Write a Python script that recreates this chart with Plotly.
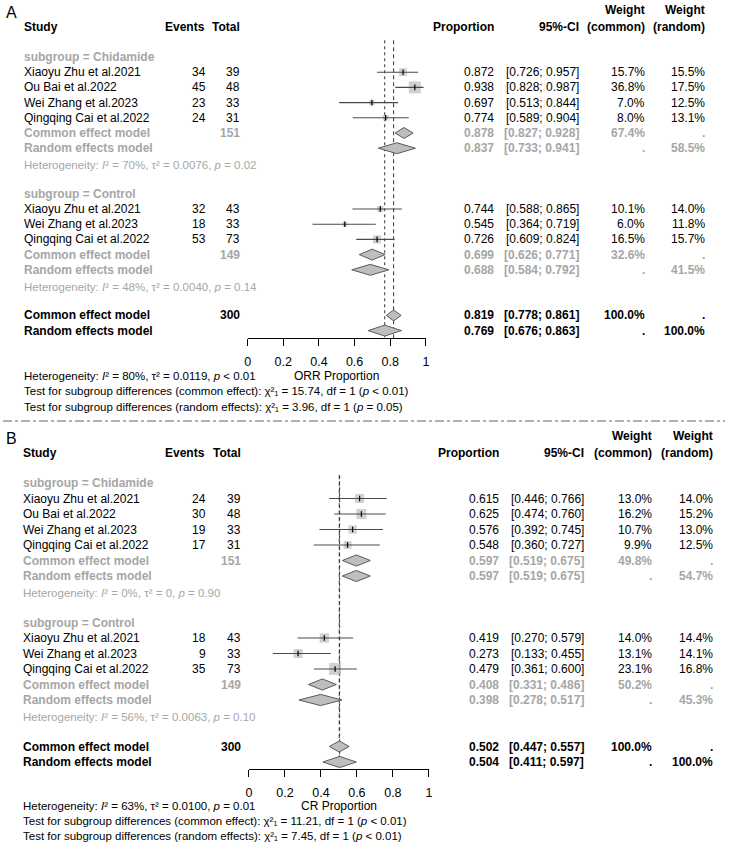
import math
import plotly.graph_objects as go

FONT = "Liberation Sans, Arial, sans-serif"
W, H = 729, 854
BLACK = "#000000"
GRAY = "#a6a6a6"
SQ = "#bebebe"
CIC = "#4a4a4a"

# ---------------- Panel A (ORR) data ----------------
A_study = ["Xiaoyu Zhu et al.2021", "Ou Bai et al.2022", "Wei Zhang et al.2023", "Qingqing Cai et al.2022",
           "Xiaoyu Zhu et al.2021", "Wei Zhang et al.2023", "Qingqing Cai et al.2022"]
A_group = ["Chidamide", "Chidamide", "Chidamide", "Chidamide", "Control", "Control", "Control"]
A_events = [34, 45, 23, 24, 32, 18, 53]
A_total = [39, 48, 33, 31, 43, 33, 73]
A_prop = [0.872, 0.938, 0.697, 0.774, 0.744, 0.545, 0.726]
A_lo = [0.726, 0.828, 0.513, 0.589, 0.588, 0.364, 0.609]
A_hi = [0.957, 0.987, 0.844, 0.904, 0.865, 0.719, 0.824]
A_wcom = [15.7, 36.8, 7.0, 8.0, 10.1, 6.0, 16.5]
A_wran = [15.5, 17.5, 12.5, 13.1, 14.0, 11.8, 15.7]
A_sub_names = ["Chidamide", "Control"]
A_sub_n = [151, 149]
A_sub_com = [0.878, 0.699]
A_sub_com_lo = [0.827, 0.626]
A_sub_com_hi = [0.928, 0.771]
A_sub_com_w = [67.4, 32.6]
A_sub_ran = [0.837, 0.688]
A_sub_ran_lo = [0.733, 0.584]
A_sub_ran_hi = [0.941, 0.792]
A_sub_ran_w = [58.5, 41.5]
A_sub_I2 = [70, 48]
A_sub_tau2 = ["0.0076", "0.0040"]
A_sub_p = ["= 0.02", "= 0.14"]
A_all_n = 300
A_all_est = [0.819, 0.769]   # common, random
A_all_lo = [0.778, 0.676]
A_all_hi = [0.861, 0.863]
A_I2, A_tau2, A_p = 80, "0.0119", "&lt; 0.01"
A_test_chi = ["15.74", "3.96"]
A_test_p = ["&lt; 0.01", "= 0.05"]
A_xlabel = "ORR Proportion"

# ---------------- Panel B (CR) data ----------------
B_study = list(A_study)
B_group = list(A_group)
B_events = [24, 30, 19, 17, 18, 9, 35]
B_total = [39, 48, 33, 31, 43, 33, 73]
B_prop = [0.615, 0.625, 0.576, 0.548, 0.419, 0.273, 0.479]
B_lo = [0.446, 0.474, 0.392, 0.360, 0.270, 0.133, 0.361]
B_hi = [0.766, 0.760, 0.745, 0.727, 0.579, 0.455, 0.600]
B_wcom = [13.0, 16.2, 10.7, 9.9, 14.0, 13.1, 23.1]
B_wran = [14.0, 15.2, 13.0, 12.5, 14.4, 14.1, 16.8]
B_sub_names = ["Chidamide", "Control"]
B_sub_n = [151, 149]
B_sub_com = [0.597, 0.408]
B_sub_com_lo = [0.519, 0.331]
B_sub_com_hi = [0.675, 0.486]
B_sub_com_w = [49.8, 50.2]
B_sub_ran = [0.597, 0.398]
B_sub_ran_lo = [0.519, 0.278]
B_sub_ran_hi = [0.675, 0.517]
B_sub_ran_w = [54.7, 45.3]
B_sub_I2 = [0, 56]
B_sub_tau2 = ["0", "0.0063"]
B_sub_p = ["= 0.90", "= 0.10"]
B_all_n = 300
B_all_est = [0.502, 0.504]
B_all_lo = [0.447, 0.411]
B_all_hi = [0.557, 0.597]
B_I2, B_tau2, B_p = 63, "0.0100", "= 0.01"
B_test_chi = ["11.21", "7.45"]
B_test_p = ["&lt; 0.01", "&lt; 0.01"]
B_xlabel = "CR Proportion"

TICKS = [0, 0.2, 0.4, 0.6, 0.8, 1]
TICK_TEXT = ["0", "0.2", "0.4", "0.6", "0.8", "1"]

fig = go.Figure()
annotations = []
shapes = []


def ann(xpx, y, text, yref, anchor="left", size=12, color=BLACK, bold=False):
    if bold:
        text = "<b>" + text + "</b>"
    annotations.append(dict(x=xpx / W, xref="paper", y=y, yref=yref, text=text,
                            xanchor=anchor, yanchor="middle", showarrow=False,
                            borderpad=0, font=dict(family=FONT, size=size, color=color)))


def het_text(i2, tau2, p):
    return ("Heterogeneity: <i>I</i>² = %s%%, τ² = %s, <i>p</i> %s" % (i2, tau2, p))


def panel(d, cfg):
    xa, ya, yref = cfg["xa"], cfg["ya"], cfg["yref"]
    c = cfg
    # header
    ann(c["label_x"], c["label_row"], c["label"], yref, size=16)
    ann(c["study_x"], c["hdr_row"], "Study", yref, bold=True)
    ann(c["ev_hdr"], c["hdr_row"], "Events", yref, anchor="right", bold=True)
    ann(c["tot_r"], c["hdr_row"], "Total", yref, anchor="right", bold=True)
    ann(c["prop_r"], c["hdr_row"], "Proportion", yref, anchor="right", bold=True)
    ann(c["ci_r"], c["hdr_row"], "95%-CI", yref, anchor="right", bold=True)
    ann(c["wc_r"], c["hdr_row"], "(common)", yref, anchor="right", bold=True)
    ann(c["wr_r"], c["hdr_row"], "(random)", yref, anchor="right", bold=True)
    ann(c["wc_r"], c["w_row"], "Weight", yref, anchor="right", bold=True)
    ann(c["wr_r"], c["w_row"], "Weight", yref, anchor="right", bold=True)

    sq_x, sq_y, sq_s = [], [], []
    ci_x, ci_y = [], []
    dia_x, dia_y = [], []
    hh = 0.36
    wmax = max(d["wcom"])

    def diamond(est, lo, hi, r):
        dia_x.extend([lo, est, hi, est, lo, None])
        dia_y.extend([r, r - hh, r, r + hh, r, None])

    row = 0
    for g, gname in enumerate(d["sub_names"]):
        ann(c["study_x"], row, "subgroup = " + gname, yref, color=GRAY, bold=True)
        row += 1
        for i, grp in enumerate(d["group"]):
            if grp != gname:
                continue
            ann(c["study_x"], row, d["study"][i], yref)
            ann(c["ev_r"], row, str(d["events"][i]), yref, anchor="right")
            ann(c["tot_r"], row, str(d["total"][i]), yref, anchor="right")
            ann(c["prop_r"], row, "%.3f" % d["prop"][i], yref, anchor="right")
            ann(c["ci_r"], row, "[%.3f; %.3f]" % (d["lo"][i], d["hi"][i]), yref, anchor="right")
            ann(c["wc_r"], row, "%.1f%%" % d["wcom"][i], yref, anchor="right")
            ann(c["wr_r"], row, "%.1f%%" % d["wran"][i], yref, anchor="right")
            sq_x.append(d["prop"][i]); sq_y.append(row)
            sq_s.append(12 * math.sqrt(d["wcom"][i] / wmax))
            ci_x.extend([d["lo"][i], d["hi"][i], None]); ci_y.extend([row, row, None])
            row += 1
        # common
        ann(c["study_x"], row, "Common effect model", yref, color=GRAY, bold=True)
        ann(c["tot_r"], row, str(d["sub_n"][g]), yref, anchor="right", color=GRAY, bold=True)
        ann(c["prop_r"], row, "%.3f" % d["sub_com"][g], yref, anchor="right", color=GRAY, bold=True)
        ann(c["ci_r"], row, "[%.3f; %.3f]" % (d["sub_com_lo"][g], d["sub_com_hi"][g]), yref, anchor="right", color=GRAY, bold=True)
        ann(c["wc_r"], row, "%.1f%%" % d["sub_com_w"][g], yref, anchor="right", color=GRAY, bold=True)
        ann(c["wr_r"], row, ".", yref, anchor="right", color=GRAY, bold=True)
        diamond(d["sub_com"][g], d["sub_com_lo"][g], d["sub_com_hi"][g], row)
        row += 1
        ann(c["study_x"], row, "Random effects model", yref, color=GRAY, bold=True)
        ann(c["prop_r"], row, "%.3f" % d["sub_ran"][g], yref, anchor="right", color=GRAY, bold=True)
        ann(c["ci_r"], row, "[%.3f; %.3f]" % (d["sub_ran_lo"][g], d["sub_ran_hi"][g]), yref, anchor="right", color=GRAY, bold=True)
        ann(c["wc_r"], row, ".", yref, anchor="right", color=GRAY, bold=True)
        ann(c["wr_r"], row, "%.1f%%" % d["sub_ran_w"][g], yref, anchor="right", color=GRAY, bold=True)
        diamond(d["sub_ran"][g], d["sub_ran_lo"][g], d["sub_ran_hi"][g], row)
        row += 1
        ann(c["study_x"], row + 0.1, het_text(d["sub_I2"][g], d["sub_tau2"][g], d["sub_p"][g]), yref,
            size=11.5, color=GRAY)
        row += 2
    # overall
    ann(c["study_x"], row, "Common effect model", yref, bold=True)
    ann(c["tot_r"], row, str(d["all_n"]), yref, anchor="right", bold=True)
    ann(c["prop_r"], row, "%.3f" % d["all_est"][0], yref, anchor="right", bold=True)
    ann(c["ci_r"], row, "[%.3f; %.3f]" % (d["all_lo"][0], d["all_hi"][0]), yref, anchor="right", bold=True)
    ann(c["wc_r"], row, "100.0%", yref, anchor="right", bold=True)
    ann(c["wr_r"], row, ".", yref, anchor="right", bold=True)
    diamond(d["all_est"][0], d["all_lo"][0], d["all_hi"][0], row)
    row += 1
    ann(c["study_x"], row, "Random effects model", yref, bold=True)
    ann(c["prop_r"], row, "%.3f" % d["all_est"][1], yref, anchor="right", bold=True)
    ann(c["ci_r"], row, "[%.3f; %.3f]" % (d["all_lo"][1], d["all_hi"][1]), yref, anchor="right", bold=True)
    ann(c["wc_r"], row, ".", yref, anchor="right", bold=True)
    ann(c["wr_r"], row, "100.0%", yref, anchor="right", bold=True)
    diamond(d["all_est"][1], d["all_lo"][1], d["all_hi"][1], row)

    # footers
    f = c["foot_rows"]
    ann(c["study_x"], f[0], het_text(d["I2"], d["tau2"], d["p"]), yref, size=11.5)
    ann(c["xlab_x"], f[0], d["xlabel"], yref, anchor="center", size=12)
    ann(c["study_x"], f[1], "Test for subgroup differences (common effect): χ²₁ = %s, df = 1 (<i>p</i> %s)"
        % (d["test_chi"][0], d["test_p"][0]), yref, size=11.5)
    ann(c["study_x"], f[2], "Test for subgroup differences (random effects): χ²₁ = %s, df = 1 (<i>p</i> %s)"
        % (d["test_chi"][1], d["test_p"][1]), yref, size=11.5)

    # reference lines
    top, bot = c["vline_top"], c["axis_row"]
    fig.add_trace(go.Scatter(x=[d["all_est"][1], d["all_est"][1]], y=[top, bot], mode="lines",
                             line=dict(color="#333333", width=1, dash="dot"), xaxis=xa, yaxis=ya,
                             hoverinfo="skip", showlegend=False))
    fig.add_trace(go.Scatter(x=[d["all_est"][0], d["all_est"][0]], y=[top, bot], mode="lines",
                             line=dict(color="#333333", width=1, dash="4px,3px"), xaxis=xa, yaxis=ya,
                             hoverinfo="skip", showlegend=False))
    # squares
    fig.add_trace(go.Scatter(x=sq_x, y=sq_y, mode="markers",
                             marker=dict(symbol="square", size=sq_s, color=SQ, line=dict(width=0)),
                             xaxis=xa, yaxis=ya, hoverinfo="skip", showlegend=False, cliponaxis=False))
    # CI lines
    fig.add_trace(go.Scatter(x=ci_x, y=ci_y, mode="lines", line=dict(color=CIC, width=1.1),
                             xaxis=xa, yaxis=ya, hoverinfo="skip", showlegend=False, cliponaxis=False))
    # centre ticks
    fig.add_trace(go.Scatter(x=sq_x, y=sq_y, mode="markers",
                             marker=dict(symbol="line-ns", size=4, line=dict(color=BLACK, width=1.2)),
                             xaxis=xa, yaxis=ya, hoverinfo="skip", showlegend=False, cliponaxis=False))
    # diamonds
    fig.add_trace(go.Scatter(x=dia_x, y=dia_y, mode="lines", fill="toself", fillcolor=SQ,
                             line=dict(color="#5a5a5a", width=1), xaxis=xa, yaxis=ya,
                             hoverinfo="skip", showlegend=False, cliponaxis=False))


def pack(prefix):
    g = globals()
    keys = ["study", "group", "events", "total", "prop", "lo", "hi", "wcom", "wran", "sub_names",
            "sub_n", "sub_com", "sub_com_lo", "sub_com_hi", "sub_com_w", "sub_ran", "sub_ran_lo",
            "sub_ran_hi", "sub_ran_w", "sub_I2", "sub_tau2", "sub_p", "all_n", "all_est", "all_lo",
            "all_hi", "I2", "tau2", "p", "test_chi", "test_p", "xlabel"]
    return {k: g[prefix + k] for k in keys}


# layout geometry (pixels) for each panel
A_cfg = dict(xa="x", ya="y", yref="y", label="A", label_x=2, label_row=-2.96, hdr_row=-1.97, w_row=-3.1,
             study_x=20, ev_hdr=204.5, ev_r=205.5, tot_r=240, prop_r=496.5, ci_r=582.5, wc_r=649.5, wr_r=709.5,
             foot_rows=[21.0, 22.0, 23.0], xlab_x=337, vline_top=-1.1, axis_row=(338 - 57) / 15.2)
B_cfg = dict(xa="x2", ya="y2", yref="y2", label="B", label_x=2, label_row=-2.9, hdr_row=-1.95, w_row=-3.03,
             study_x=19.5, ev_hdr=205, ev_r=206, tot_r=241, prop_r=502, ci_r=588, wc_r=656.5, wr_r=718,
             foot_rows=[20.85, 21.82, 22.8], xlab_x=339, vline_top=-0.5, axis_row=(769 - 483) / 15.5)

panel(pack("A_"), A_cfg)
panel(pack("B_"), B_cfg)

# separator
shapes.append(dict(type="line", xref="paper", yref="paper", x0=0, x1=1, y0=1 - 421 / H, y1=1 - 421 / H,
                   line=dict(color="#55627f", width=1, dash="dashdot")))

axis_common = dict(range=[0, 1], showline=True, linecolor=BLACK, linewidth=1, ticks="outside",
                   ticklen=7, tickwidth=1, tickcolor=BLACK, tickvals=TICKS, ticktext=TICK_TEXT,
                   showgrid=False, zeroline=False, fixedrange=True, anchor="free",
                   tickfont=dict(family=FONT, size=12.5, color=BLACK), ticklabelstandoff=5)
yaxis_common = dict(visible=False, showgrid=False, zeroline=False, fixedrange=True)

fig.update_layout(
    width=W, height=H, margin=dict(l=0, r=0, t=0, b=0),
    paper_bgcolor="white", plot_bgcolor="rgba(0,0,0,0)",
    showlegend=False,
    xaxis=dict(domain=[247 / W, 427 / W], position=1 - 338 / H, **axis_common),
    yaxis=dict(domain=[1 - 420 / H, 1], range=[(420 - 57) / 15.2, -57 / 15.2], **yaxis_common),
    xaxis2=dict(domain=[248.3 / W, 430 / W], position=1 - 769 / H, **axis_common),
    yaxis2=dict(domain=[0, 1 - 422 / H], range=[(854 - 483) / 15.5, (422 - 483) / 15.5], **yaxis_common),
    annotations=annotations, shapes=shapes,
)

fig.write_html("out.html", config={"displayModeBar": False},
               post_script="document.body.style.margin='0px';document.body.style.overflow='hidden';")
